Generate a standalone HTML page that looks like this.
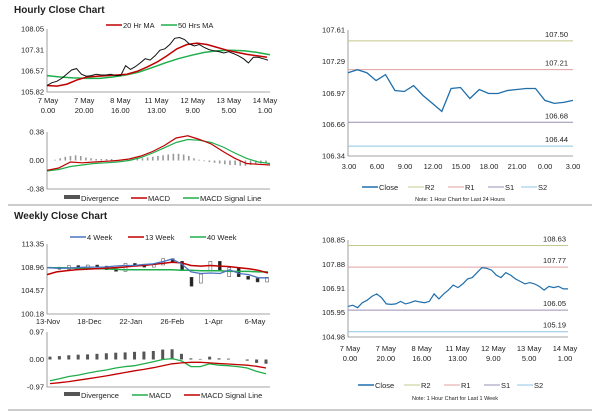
<!DOCTYPE html>
<html><head><meta charset="utf-8"><style>
body{margin:0;background:#fff;font-family:"Liberation Sans",Arial,sans-serif}
svg text{font-family:"Liberation Sans",Arial,sans-serif;font-size:7.5px;fill:#222}
</style></head><body>
<svg id="s" width="600" height="413" viewBox="0 0 600 413" xmlns="http://www.w3.org/2000/svg">
<text x="14" y="13" style="font-size:10px;font-weight:bold">Hourly Close Chart</text>
<text x="14" y="219" style="font-size:10px;font-weight:bold">Weekly Close Chart</text>
<line x1="8" y1="205" x2="592" y2="205" stroke="#999" stroke-width="1"/>
<line x1="8" y1="410" x2="592" y2="410" stroke="#999" stroke-width="1"/>
<g id="g"></g>
</svg>
<script>
// ---- data ----
const hourlyClose=[106.05,106.15,106.2,106.3,106.45,106.6,106.65,106.45,106.38,106.4,106.45,106.42,106.42,106.45,106.4,106.4,106.75,106.62,106.72,106.85,107.0,106.95,107.1,107.3,107.35,107.5,107.72,107.75,107.68,107.52,107.45,107.5,107.4,107.32,107.28,107.25,107.2,107.25,107.18,107.1,107.0,106.85,107.05,107.05,107.0,106.95];
const hourlyMA20=[106.05,106.03,106.1,106.25,106.35,106.38,106.4,106.42,106.45,106.55,106.7,106.88,107.1,107.35,107.5,107.55,107.5,107.4,107.3,107.22,107.15,107.1,107.05];
const hourlyMA50=[106.4,106.35,106.32,106.3,106.3,106.35,106.42,106.52,106.68,106.85,107.0,107.12,107.22,107.28,107.3,107.28,107.22,107.14];
const hourlyTicks=[108.05,107.31,106.57,105.82];
const hourlyCats=[["7 May","0.00"],["7 May","20.00"],["8 May","16.00"],["11 May","13.00"],["12 May","9.00"],["13 May","5.00"],["14 May","1.00"]];
const hMacd=[-0.13,-0.1,-0.02,-0.03,-0.02,-0.01,0.0,0.02,0.06,0.12,0.2,0.3,0.33,0.28,0.22,0.12,0.03,-0.04,-0.05,-0.06];
const hSignal=[-0.14,-0.12,-0.08,-0.06,-0.04,-0.03,-0.02,0.0,0.04,0.1,0.17,0.24,0.28,0.27,0.24,0.18,0.1,0.03,-0.02,-0.04];
const hDiv=[0.01,0.03,0.05,0.06,0.07,0.06,0.04,0.03,0.02,0.02,0.02,0.02,0.01,0.01,0.02,0.02,0.02,0.03,0.04,0.05,0.06,0.07,0.08,0.09,0.09,0.08,0.06,0.03,0.01,-0.01,-0.02,-0.03,-0.04,-0.05,-0.06,-0.06,-0.07,-0.07,-0.06,-0.05,-0.04,-0.03];
const hMacdTicks=[0.38,0.00,-0.38];
const dayClose=[107.18,107.21,107.18,107.1,107.16,107.0,106.99,107.05,106.95,106.87,106.79,107.02,107.03,106.92,107.01,106.97,106.97,107.0,107.01,107.02,107.02,106.9,106.87,106.88,106.9];
const dayTicks=[107.61,107.29,106.97,106.66,106.34];
const dayCats=["3.00","6.00","9.00","12.00","15.00","18.00","21.00","0.00","3.00"];
const dayLevels=[107.50,107.21,106.68,106.44];
const weekMA4=[108.9,108.8,108.8,108.9,109.0,109.0,109.0,109.2,109.3,109.3,109.5,109.6,110.0,110.5,109.6,108.1,107.8,107.9,107.8,108.5,107.8,107.6,107.0,107.0];
const weekMA13=[107.6,108.1,108.3,108.5,108.6,108.7,108.8,108.9,109.0,109.2,109.3,109.5,109.7,109.9,109.8,109.3,109.2,109.3,109.2,109.1,108.9,108.7,108.4,107.9];
const weekMA40=[108.9,108.9,108.9,108.8,108.8,108.7,108.7,108.6,108.5,108.5,108.5,108.5,108.5,108.5,108.4,108.4,108.3,108.3,108.3,108.2,108.2,108.2,108.1,108.1];
const weekClose=[108.9,108.7,109.2,108.8,109.3,109.1,108.6,108.3,109.6,109.4,109.1,109.5,110.5,110.0,107.0,105.0,107.6,110.0,107.2,108.8,107.2,106.8,106.3,107.0];
const weekTicks=[113.35,108.96,104.57,100.18];
const weekCats=["13-Nov","18-Dec","22-Jan","26-Feb","1-Apr","6-May"];
const wMacd=[-0.75,-0.68,-0.6,-0.55,-0.48,-0.42,-0.37,-0.3,-0.25,-0.22,-0.15,-0.08,0.0,0.03,-0.05,-0.25,-0.25,-0.15,-0.2,-0.22,-0.25,-0.3,-0.42,-0.5];
const wSignal=[-0.85,-0.82,-0.78,-0.73,-0.68,-0.63,-0.58,-0.52,-0.46,-0.4,-0.35,-0.29,-0.22,-0.15,-0.12,-0.1,-0.1,-0.12,-0.14,-0.16,-0.18,-0.2,-0.24,-0.3];
const wDiv=[0.1,0.12,0.15,0.17,0.18,0.2,0.22,0.24,0.25,0.27,0.28,0.3,0.35,0.36,0.2,0.04,0.02,0.1,0.04,0.03,0.0,-0.04,-0.12,-0.15];
const wMacdTicks=[0.97,0.00,-0.97];
const weekHrClose=[106.2,106.25,106.15,106.35,106.45,106.6,106.7,106.55,106.3,106.28,106.3,106.4,106.3,106.35,106.42,106.38,106.35,106.4,106.7,106.5,106.7,106.85,107.05,106.95,107.1,107.3,107.35,107.55,107.75,107.72,107.65,107.45,107.35,107.55,107.45,107.3,107.2,107.1,107.15,107.1,107.0,106.85,107.0,106.95,107.0,106.9,106.9];
const weekHrTicks=[108.85,107.88,106.91,105.95,104.98];
const weekHrCats=[["7 May","0.00"],["7 May","20.00"],["8 May","16.00"],["11 May","13.00"],["12 May","9.00"],["13 May","5.00"],["14 May","1.00"]];
const weekHrLevels=[108.63,107.77,106.05,105.19];

// ---- helpers ----
const G=document.getElementById('g');const NS='http://www.w3.org/2000/svg';
function mk(t,a,txt){const e=document.createElementNS(NS,t);for(const k in a)e.setAttribute(k,a[k]);if(txt!==undefined)e.textContent=txt;G.appendChild(e);return e;}
function scale(d0,d1,r0,r1){return v=>r0+(v-d0)*(r1-r0)/(d1-d0);}
function line(arr,xs,ys,x0,x1,col,w,name){const n=arr.length;const p=arr.map((v,i)=>(x0+(x1-x0)*i/(n-1)).toFixed(1)+','+ys(v).toFixed(1)).join(' ');
 const e=mk('polyline',{points:p,fill:'none',stroke:col,'stroke-width':w});
 
 }
function yaxis(ticks,ys,x,name){ticks.forEach(t=>{const e=mk('text',{x:x-3,y:ys(t)+2.5,'text-anchor':'end'},t.toFixed(2));
 
 });}
function frame(x0,y0,x1,y1,name){const e=mk('path',{d:`M${x0},${y0}V${y1}H${x1}`,fill:'none',stroke:'#888','stroke-width':0.8});
 
 }
function legend(items,y,name){items.forEach(it=>{const [x,label,col,w]=it;const l=mk('line',{x1:x,y1:y-3,x2:x+16,y2:y-3,stroke:col,'stroke-width':w});
 
 
 const t=mk('text',{x:x+17,y:y},label);
 
 });}
function cats2(c,x0,x1,y,name){const n=c.length;c.forEach((p,i)=>{const x=x0+(x1-x0)*i/(n-1);
 const a=mk('text',{x:x,y:y,'text-anchor':'middle'},p[0]);
 const b=mk('text',{x:x,y:y+10,'text-anchor':'middle'},p[1]);});}
function bars(arr,ys,x0,x1,col,bw,name){const n=arr.length;arr.forEach((v,i)=>{const x=x0+(x1-x0)*i/(n-1);const y0=ys(0),y1=ys(v);
 const r=mk('rect',{x:x-bw/2,y:Math.min(y0,y1),width:bw,height:Math.abs(y1-y0),fill:col});
 
 });}

// ---- hourly price ----
{const ys=scale(105.82,108.05,92,29);frame(47,29,270,92,'hourly-axes');yaxis(hourlyTicks,ys,47,'hourly-y');
 line(hourlyMA50,ys,ys,47,270,'#1fae4b',1.5,'ma50-line');
 line(hourlyMA20,ys,ys,47,267,'#c00000',1.5,'ma20-line');
 line(hourlyClose,ys,ys,47,268,'#111',1,'hourly-close-line');
 cats2(hourlyCats,48,265,103,'hourly-x-tick');
 legend([[106,'20 Hr MA','#c00000',1.5],[161,'50 Hrs MA','#1fae4b',1.5]],28,'hourly-legend');}
// ---- hourly macd ----
{const ys=scale(-0.38,0.38,189,132);frame(47,132,270,189,'hourly-macd-axes');yaxis(hMacdTicks,ys,47,'hourly-macd-y');
 bars(hDiv,ys,55,266,'#999',1.6,'hourly-divergence-bar');
 line(hSignal,ys,ys,47,270,'#1fae4b',1.2,'hourly-signal-line');
 line(hMacd,ys,ys,47,270,'#c00000',1.2,'hourly-macd-line');
 const r=mk('rect',{x:64,y:195,width:16,height:4,fill:'#555'});
 mk('text',{x:81,y:201},'Divergence');
 legend([[131,'MACD','#c00000',1.5],[183,'MACD Signal Line','#1fae4b',1.5]],201,'hourly-macd-legend');}
// ---- day close ----
{const ys=scale(106.34,107.61,156,30);frame(348,30,573,156,'day-axes');yaxis(dayTicks,ys,348,'day-y');
 const cols=['#c3c88c','#e0a0a0','#9a8fb3','#8fc6e0'];
 dayLevels.forEach((v,i)=>{const l=mk('line',{x1:348,x2:573,y1:ys(v),y2:ys(v),stroke:cols[i],'stroke-width':1});
 const t=mk('text',{x:568,y:ys(v)-4,'text-anchor':'end'},v.toFixed(2));});
 line(dayClose,ys,ys,348,573,'#1f6eaa',1.3,'day-close-line');
 dayCats.forEach((c,i)=>{const t=mk('text',{x:349+(573-349)*i/(dayCats.length-1),y:169,'text-anchor':'middle'},c);});
 legend([[362,'Close','#1f6eaa',1.5],[408,'R2',cols[0],1],[448,'R1',cols[1],1],[488,'S1',cols[2],1],[521,'S2',cols[3],1]],190,'day-legend');
 const n=mk('text',{x:460,y:201,'text-anchor':'middle',style:'font-size:5.5px'},'Note: 1 Hour Chart for Last 24 Hours');}
// ---- weekly price ----
{const ys=scale(100.18,113.35,314,244);frame(47,244,270,314,'weekly-axes');yaxis(weekTicks,ys,47,'weekly-y');
 const n=weekClose.length;weekClose.forEach((v,i)=>{const x=50+(267-50)*i/(n-1);const o=i?weekClose[i-1]:v;
 const r=mk('rect',{x:x-1.5,y:Math.min(ys(o),ys(v))-0.5,width:3,height:Math.min(8,Math.abs(ys(o)-ys(v)))+1,fill:v<o?'#222':'#fff',stroke:'#444','stroke-width':0.5});
 });
 line(weekMA40,ys,ys,47,268,'#1fae4b',1.5,'ma40-line');
 line(weekMA13,ys,ys,47,268,'#c00000',1.5,'ma13-line');
 line(weekMA4,ys,ys,47,268,'#4a72c0',1.3,'ma4-line');
 weekCats.forEach((c,i)=>{const t=mk('text',{x:48+(255-48)*i/(weekCats.length-1),y:324,'text-anchor':'middle'},c);});
 legend([[70,'4 Week','#4a72c0',1.5],[128,'13 Week','#c00000',1.5],[190,'40 Week','#1fae4b',1.5]],240,'weekly-legend');}
// ---- weekly macd ----
{const ys=scale(-0.97,0.97,387,332);frame(47,332,270,387,'weekly-macd-axes');yaxis(wMacdTicks,ys,47,'weekly-macd-y');
 bars(wDiv,ys,50,266,'#555',3,'weekly-divergence-bar');
 line(wMacd,ys,ys,50,266,'#1fae4b',1.3,'weekly-macd-line');
 line(wSignal,ys,ys,50,266,'#c00000',1.3,'weekly-signal-line');
 const r=mk('rect',{x:64,y:392,width:16,height:4,fill:'#555'});
 mk('text',{x:81,y:398},'Divergence');
 legend([[132,'MACD','#1fae4b',1.5],[184,'MACD Signal Line','#c00000',1.5]],398,'weekly-macd-legend');}
// ---- week hourly close ----
{const ys=scale(104.98,108.85,337,240);frame(348,240,568,337,'weekhr-axes');yaxis(weekHrTicks,ys,348,'weekhr-y');
 const cols=['#c3c88c','#e0a0a0','#9a8fb3','#8fc6e0'];
 weekHrLevels.forEach((v,i)=>{const l=mk('line',{x1:348,x2:568,y1:ys(v),y2:ys(v),stroke:cols[i],'stroke-width':1});
 const t=mk('text',{x:566,y:ys(v)-4,'text-anchor':'end'},v.toFixed(2));});
 line(weekHrClose,ys,ys,348,568,'#1f6eaa',1.2,'weekhr-close-line');
 cats2(weekHrCats,350,565,351,'weekhr-x-tick');
 legend([[358,'Close','#1f6eaa',1.5],[404,'R2',cols[0],1],[444,'R1',cols[1],1],[484,'S1',cols[2],1],[517,'S2',cols[3],1]],388,'weekhr-legend');
 const n=mk('text',{x:455,y:400,'text-anchor':'middle',style:'font-size:5.5px'},'Note: 1 Hour Chart for Last 1 Week');}
</script>
</body></html>
